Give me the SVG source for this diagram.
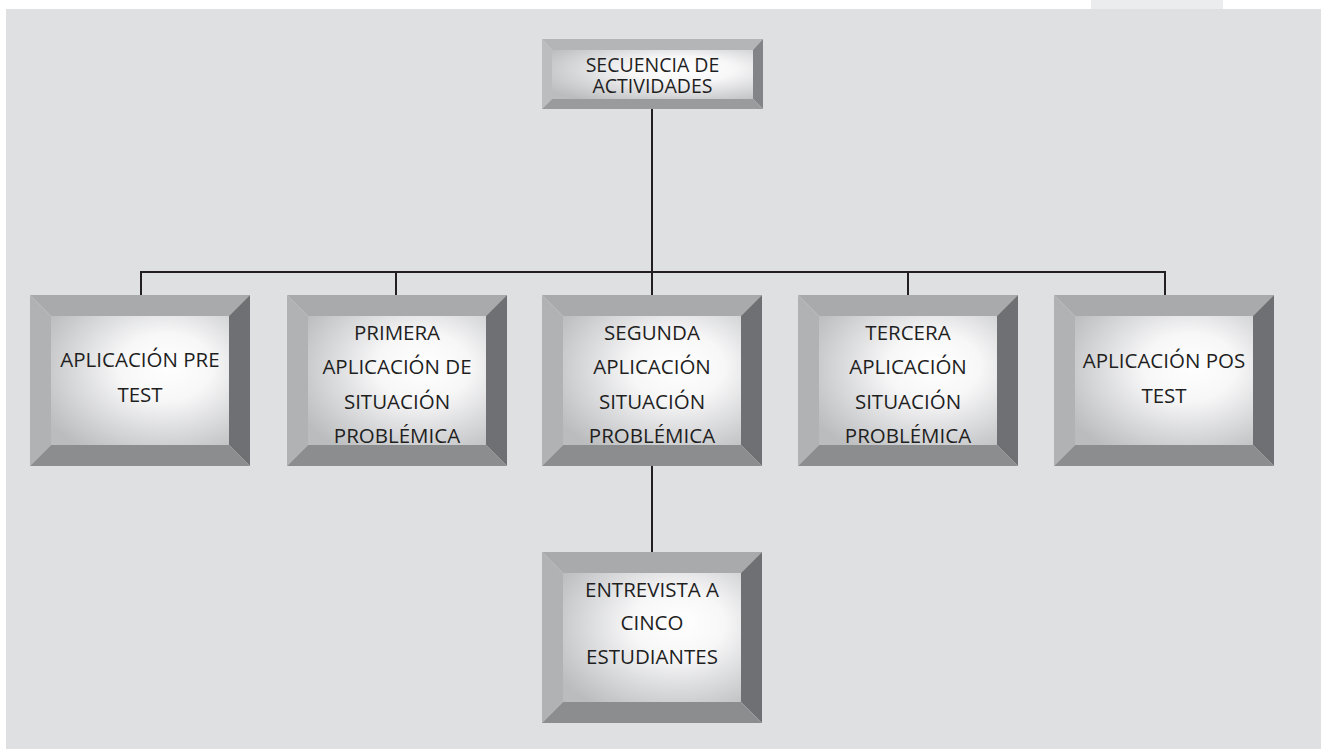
<svg xmlns="http://www.w3.org/2000/svg" width="1321" height="749" viewBox="0 0 1321 749">
<defs>
<radialGradient id="face" cx="0.62" cy="0.42" r="0.75" fx="0.66" fy="0.38">
<stop offset="0" stop-color="#ffffff"/>
<stop offset="0.35" stop-color="#f7f7f8"/>
<stop offset="1" stop-color="#bbbcbe"/>
</radialGradient>
<style>
.t{fill:#a9aaac}.l{fill:#b1b2b4}.r{fill:#6f7073}.b{fill:#8c8d8f}
.f{fill:url(#face)}
.tt{fill:#b4b5b7}.tl{fill:#bcbdbf}.tr{fill:#838487}.tb{fill:#9a9b9d}
text{font-family:"Open Sans","Liberation Sans",sans-serif;font-size:20.5px;fill:#1f1f1f;text-anchor:middle}
.s{font-size:19.5px}
.c{stroke:#231f20;stroke-width:2;fill:none}
</style>
</defs>
<rect x="0" y="0" width="1321" height="749" fill="#ffffff"/>
<rect x="1091" y="0" width="132" height="9" fill="#ebecee"/>
<rect x="6" y="9" width="1315" height="740" fill="#dfe0e1"/>
<g id="connectors">
<path class="c" d="M652 109V272M141 272H1165M141 271V295M396 271V295M652 271V295M908 271V295M1165 271V295M652 466V552"/>
</g>
<g id="n0">
<polygon class="tt" points="542,39 763,39 753,50 552,50"/>
<polygon class="tl" points="542,39 552,50 552,99 542,109"/>
<polygon class="tr" points="763,39 763,109 753,99 753,50"/>
<polygon class="tb" points="542,109 552,99 753,99 763,109"/>
<rect class="f" x="552" y="50" width="201" height="49"/>
<text class="s" x="652.5" y="71.5">SECUENCIA DE</text>
<text class="s" x="652.5" y="92.5">ACTIVIDADES</text>
</g>
<g id="n1">
<polygon class="t" points="30,295 250,295 229,316 51,316"/>
<polygon class="l" points="30,295 51,316 51,445 30,466"/>
<polygon class="r" points="250,295 250,466 229,445 229,316"/>
<polygon class="b" points="30,466 51,445 229,445 250,466"/>
<rect class="f" x="51" y="316" width="178" height="129"/>
<text x="140" y="367">APLICACIÓN PRE</text>
<text x="140" y="402">TEST</text>
</g>
<g id="n2">
<polygon class="t" points="287,295 507,295 486,316 308,316"/>
<polygon class="l" points="287,295 308,316 308,445 287,466"/>
<polygon class="r" points="507,295 507,466 486,445 486,316"/>
<polygon class="b" points="287,466 308,445 486,445 507,466"/>
<rect class="f" x="308" y="316" width="178" height="129"/>
<text x="397" y="340">PRIMERA</text>
<text x="397" y="374">APLICACIÓN DE</text>
<text x="397" y="408.5">SITUACIÓN</text>
<text x="397" y="442.5">PROBLÉMICA</text>
</g>
<g id="n3">
<polygon class="t" points="542,295 762,295 741,316 563,316"/>
<polygon class="l" points="542,295 563,316 563,445 542,466"/>
<polygon class="r" points="762,295 762,466 741,445 741,316"/>
<polygon class="b" points="542,466 563,445 741,445 762,466"/>
<rect class="f" x="563" y="316" width="178" height="129"/>
<text x="652" y="340">SEGUNDA</text>
<text x="652" y="374">APLICACIÓN</text>
<text x="652" y="408.5">SITUACIÓN</text>
<text x="652" y="442.5">PROBLÉMICA</text>
</g>
<g id="n4">
<polygon class="t" points="798,295 1018,295 997,316 819,316"/>
<polygon class="l" points="798,295 819,316 819,445 798,466"/>
<polygon class="r" points="1018,295 1018,466 997,445 997,316"/>
<polygon class="b" points="798,466 819,445 997,445 1018,466"/>
<rect class="f" x="819" y="316" width="178" height="129"/>
<text x="908" y="340">TERCERA</text>
<text x="908" y="374">APLICACIÓN</text>
<text x="908" y="408.5">SITUACIÓN</text>
<text x="908" y="442.5">PROBLÉMICA</text>
</g>
<g id="n5">
<polygon class="t" points="1054,295 1274,295 1253,316 1075,316"/>
<polygon class="l" points="1054,295 1075,316 1075,445 1054,466"/>
<polygon class="r" points="1274,295 1274,466 1253,445 1253,316"/>
<polygon class="b" points="1054,466 1075,445 1253,445 1274,466"/>
<rect class="f" x="1075" y="316" width="178" height="129"/>
<text x="1164" y="368">APLICACIÓN POS</text>
<text x="1164" y="403">TEST</text>
</g>
<g id="n6">
<polygon class="t" points="542,552 762,552 741,573 563,573"/>
<polygon class="l" points="542,552 563,573 563,702 542,723"/>
<polygon class="r" points="762,552 762,723 741,702 741,573"/>
<polygon class="b" points="542,723 563,702 741,702 762,723"/>
<rect class="f" x="563" y="573" width="178" height="129"/>
<text x="652" y="597">ENTREVISTA A</text>
<text x="652" y="630">CINCO</text>
<text x="652" y="663.5">ESTUDIANTES</text>
</g>
</svg>
